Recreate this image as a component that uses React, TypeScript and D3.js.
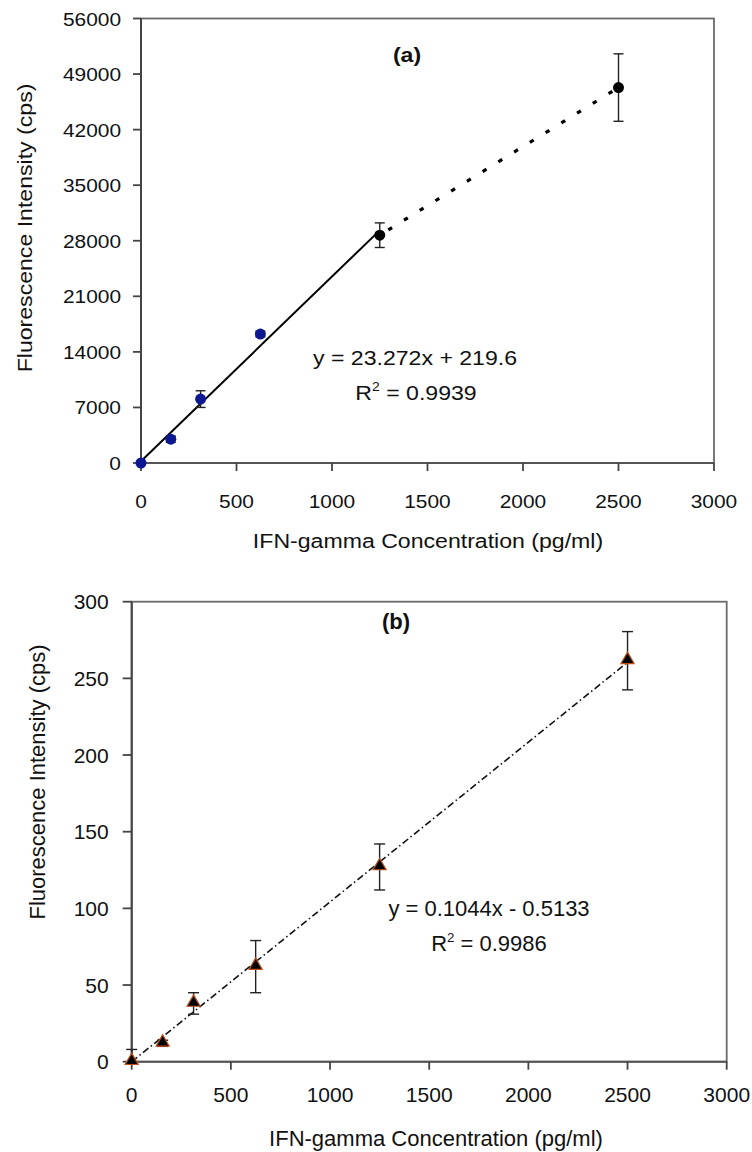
import { useEffect, useRef } from "react";
import * as d3 from "d3";

// shared x values (pg/ml)
const concentrations = [0, 156, 312, 625, 1250, 2500];
const xTicks = [0, 500, 1000, 1500, 2000, 2500, 3000];

// panel (a)
const intensityA = [0, 3000, 8050, 16250, 28700, 47300];
const errorA = [0, 400, 1050, 350, 1550, 4250];
const outsideLinearA = [false, false, false, false, true, true];
const yTicksA = [0, 7000, 14000, 21000, 28000, 35000, 42000, 49000, 56000];
const fitA = { slope: 23.272, intercept: 219.6, from: 0, to: 1250 };
const equationA = "y = 23.272x + 219.6";
const r2A = "0.9939";

// panel (b)
const intensityB = [0, 12, 38, 62, 127, 261.5];
const errorB = [8, 2, 7, 17, 15, 19];
const yTicksB = [0, 50, 100, 150, 200, 250, 300];
const fitB = { slope: 0.1044, intercept: -0.5133, from: 0, to: 2500 };
const equationB = "y = 0.1044x - 0.5133";
const r2B = "0.9986";

const xTitle = "IFN-gamma Concentration (pg/ml)";
const yTitle = "Fluorescence Intensity (cps)";
const FONT = "'Liberation Sans', Arial, sans-serif";

type Sel = d3.Selection<SVGGElement, unknown, null, undefined>;

function txt(
  g: Sel,
  x: number,
  y: number,
  s: string,
  o: { size: number; anchor?: string; weight?: string; stretch?: number; rotate?: number }
) {
  const rot = o.rotate ? ` rotate(${o.rotate})` : "";
  return g
    .append("text")
    .attr("transform", `translate(${x},${y})${rot} scale(${o.stretch ?? 1},1)`)
    .attr("text-anchor", o.anchor ?? "middle")
    .attr("font-family", FONT)
    .attr("font-size", o.size)
    .attr("font-weight", o.weight ?? "normal")
    .attr("fill", "#111")
    .text(s);
}

function r2Text(g: Sel, x: number, y: number, value: string, size: number, stretch: number) {
  const t = g
    .append("text")
    .attr("transform", `translate(${x},${y}) scale(${stretch},1)`)
    .attr("text-anchor", "middle")
    .attr("font-family", FONT)
    .attr("font-size", size)
    .attr("fill", "#111");
  t.append("tspan").text("R");
  t.append("tspan").attr("font-size", size * 0.6).attr("dy", -size * 0.42).text("2");
  t.append("tspan").attr("dy", size * 0.42).text(` = ${value}`);
}

export default function App() {
  const ref = useRef<SVGSVGElement>(null);

  useEffect(() => {
    const svg = d3.select(ref.current);
    svg.selectAll("*").remove();
    const root = svg.append("g") as unknown as Sel;

    // ---------- panel (a) ----------
    {
      const s = 1.1;
      const x = d3.scaleLinear().domain([0, 3000]).range([141, 714]);
      const y = d3.scaleLinear().domain([0, 56000]).range([463, 18.5]);
      const g = root.append("g");

      g.append("rect")
        .attr("x", x(0)).attr("y", y(56000))
        .attr("width", x(3000) - x(0)).attr("height", y(0) - y(56000))
        .attr("fill", "none").attr("stroke", "#6a6a6a").attr("stroke-width", 1.8);
      g.append("line").attr("x1", x(0)).attr("x2", x(0)).attr("y1", y(0)).attr("y2", y(56000))
        .attr("stroke", "#444").attr("stroke-width", 2);
      g.append("line").attr("x1", x(0)).attr("x2", x(3000)).attr("y1", y(0)).attr("y2", y(0))
        .attr("stroke", "#555").attr("stroke-width", 2);

      yTicksA.forEach((t) => {
        g.append("line").attr("x1", x(0) - 8).attr("x2", x(0)).attr("y1", y(t)).attr("y2", y(t))
          .attr("stroke", "#444").attr("stroke-width", 1.8);
        txt(g, x(0) - 20, y(t) + 7, String(t), { size: 19, anchor: "end", stretch: s });
      });
      xTicks.forEach((t) => {
        g.append("line").attr("x1", x(t)).attr("x2", x(t)).attr("y1", y(0)).attr("y2", y(0) + 8)
          .attr("stroke", "#444").attr("stroke-width", 1.8);
        txt(g, x(t), 508, String(t), { size: 19, stretch: s });
      });

      txt(g, 428, 548, xTitle, { size: 21, stretch: s });
      txt(g, 32, 228, yTitle, { size: 21, stretch: s, rotate: -90 });
      txt(g, 407, 62, "(a)", { size: 21, weight: "bold", stretch: s });
      txt(g, 415, 365, equationA, { size: 21, stretch: s });
      r2Text(g, 416, 400, r2A, 21, s);

      // linear fit (solid) and extrapolation to last point (dotted)
      const fitLine = d3.line<number>().x((d) => x(d)).y((d) => y(fitA.slope * d + fitA.intercept));
      g.append("path").datum([fitA.from, fitA.to]).attr("d", fitLine)
        .attr("fill", "none").attr("stroke", "#000").attr("stroke-width", 2);
      const outIdx = concentrations.map((_, i) => i).filter((i) => outsideLinearA[i]);
      const dotted = d3.line<number>().x((i) => x(concentrations[i])).y((i) => y(intensityA[i]));
      g.append("path").datum(outIdx).attr("d", dotted)
        .attr("fill", "none").attr("stroke", "#000").attr("stroke-width", 3.2)
        .attr("stroke-dasharray", "4.5,14").attr("stroke-dashoffset", -10);

      concentrations.forEach((c, i) => {
        const e = errorA[i];
        if (e <= 0) return;
        const lo = y(Math.max(0, intensityA[i] - e));
        const hi = y(intensityA[i] + e);
        g.append("line").attr("x1", x(c)).attr("x2", x(c)).attr("y1", lo).attr("y2", hi)
          .attr("stroke", "#222").attr("stroke-width", 1.4);
        [lo, hi].forEach((yy) =>
          g.append("line").attr("x1", x(c) - 5).attr("x2", x(c) + 5).attr("y1", yy).attr("y2", yy)
            .attr("stroke", "#222").attr("stroke-width", 1.4)
        );
      });
      concentrations.forEach((c, i) => {
        g.append("circle").attr("cx", x(c)).attr("cy", y(intensityA[i])).attr("r", 5.5)
          .attr("fill", outsideLinearA[i] ? "#000" : "#0b1890");
      });
    }

    // ---------- panel (b) ----------
    {
      const s = 1.0;
      const x = d3.scaleLinear().domain([0, 3000]).range([131.7, 726.7]);
      const y = d3.scaleLinear().domain([0, 300]).range([1061.7, 601.7]);
      const g = root.append("g");

      g.append("rect")
        .attr("x", x(0)).attr("y", y(300))
        .attr("width", x(3000) - x(0)).attr("height", y(0) - y(300))
        .attr("fill", "none").attr("stroke", "#6a6a6a").attr("stroke-width", 1.8);
      g.append("line").attr("x1", x(0)).attr("x2", x(0)).attr("y1", y(0)).attr("y2", y(300))
        .attr("stroke", "#444").attr("stroke-width", 2);
      g.append("line").attr("x1", x(0)).attr("x2", x(3000)).attr("y1", y(0)).attr("y2", y(0))
        .attr("stroke", "#555").attr("stroke-width", 2);

      yTicksB.forEach((t) => {
        g.append("line").attr("x1", x(0) - 9).attr("x2", x(0)).attr("y1", y(t)).attr("y2", y(t))
          .attr("stroke", "#444").attr("stroke-width", 1.8);
        txt(g, x(0) - 23, y(t) + 7.5, String(t), { size: 21, anchor: "end", stretch: s });
      });
      xTicks.forEach((t) => {
        g.append("line").attr("x1", x(t)).attr("x2", x(t)).attr("y1", y(0)).attr("y2", y(0) + 8)
          .attr("stroke", "#444").attr("stroke-width", 1.8);
        txt(g, x(t), 1102, String(t), { size: 21, stretch: s });
      });

      txt(g, 436, 1146, xTitle, { size: 22, stretch: s });
      txt(g, 45, 782, yTitle, { size: 22, stretch: s, rotate: -90 });
      txt(g, 396, 629, "(b)", { size: 22, weight: "bold", stretch: s });
      txt(g, 489, 916, equationB, { size: 22, stretch: s });
      r2Text(g, 489, 951, r2B, 22, s);

      const fitLine = d3.line<number>().x((d) => x(d)).y((d) => y(Math.max(0, fitB.slope * d + fitB.intercept)));
      g.append("path").datum([fitB.from, fitB.to]).attr("d", fitLine)
        .attr("fill", "none").attr("stroke", "#111").attr("stroke-width", 1.6)
        .attr("stroke-dasharray", "7,3,1.5,3");

      concentrations.forEach((c, i) => {
        const e = errorB[i];
        const lo = y(Math.max(0, intensityB[i] - e));
        const hi = y(intensityB[i] + e);
        g.append("line").attr("x1", x(c)).attr("x2", x(c)).attr("y1", lo).attr("y2", hi)
          .attr("stroke", "#222").attr("stroke-width", 1.4);
        [lo, hi].forEach((yy) =>
          g.append("line").attr("x1", x(c) - 5.5).attr("x2", x(c) + 5.5).attr("y1", yy).attr("y2", yy)
            .attr("stroke", "#222").attr("stroke-width", 1.4)
        );
      });
      const tri = d3.symbol().type(d3.symbolTriangle).size(75);
      concentrations.forEach((c, i) => {
        g.append("path").attr("d", tri()!)
          .attr("transform", `translate(${x(c)},${y(intensityB[i]) - 1})`)
          .attr("fill", "#000").attr("stroke", "#c0501a").attr("stroke-width", 1.2);
      });
    }
  }, []);

  return (
    <svg
      ref={ref}
      width={752}
      height={1152}
      style={{ position: "absolute", left: 0, top: 0, background: "#fff" }}
    />
  );
}
